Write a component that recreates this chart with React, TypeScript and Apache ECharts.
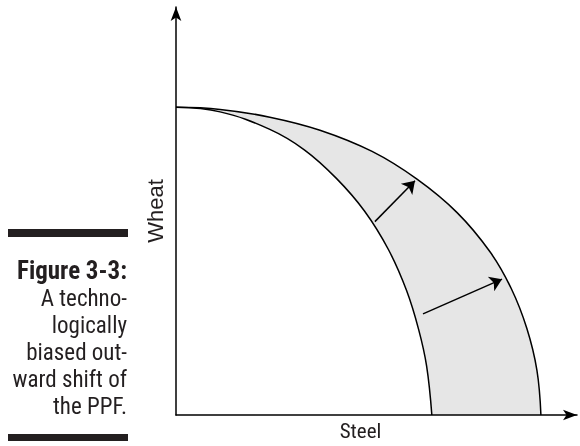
import React, { useEffect, useRef } from "react";
import * as echarts from "echarts";

// PPF curves (Steel on x, Wheat on y)
const innerSteel = [0, 11.0, 23.4, 32.0, 40.0, 47.0, 53.0, 57.5, 60.5, 62.5, 63.8];
const innerWheat = [75.4, 74.3, 70.0, 65.0, 58.0, 50.0, 40.5, 30.5, 21.0, 12.0, 0];
const outerSteel = [0, 11.0, 23.4, 35.9, 48.9, 60.1, 70.1, 78.3, 83.6, 87.5, 90.0, 91.0];
const outerWheat = [75.4, 74.9, 73.0, 69.8, 64.6, 57.8, 49.6, 40.0, 31.0, 21.2, 11.0, 0];
// shift arrows: [fromSteel, fromWheat, toSteel, toWheat]
const arrows = [
  [49.6, 47.4, 59.6, 57.4],
  [61.6, 24.8, 81.3, 33.3],
];
const captionTitle = "Figure 3-3:";
const captionLines = ["A techno-", "logically", "biased out-", "ward shift of", "the PPF."];
const xName = "Steel";
const yName = "Wheat";

const condensed = "'Liberation Sans Narrow', 'Roboto Condensed', Roboto, sans-serif";

export default function App() {
  const ref = useRef<HTMLDivElement>(null);
  useEffect(() => {
    if (!ref.current) return;
    const chart = echarts.init(ref.current, undefined, { renderer: "svg" });
    const zip = (xs: number[], ys: number[]) => xs.map((x, i) => [x, ys[i]]);
    const axisCommon = {
      type: "value" as const,
      min: 0,
      max: 100,
      z: 10,
      axisLine: {
        show: true,
        symbol: ["none", "arrow"],
        symbolSize: [8, 14],
        lineStyle: { color: "#000", width: 1.5 },
      },
      axisTick: { show: false },
      axisLabel: { show: false },
      splitLine: { show: false },
      nameLocation: "middle" as const,
    };
    const graphics: any[] = [
      { type: "rect", shape: { x: 8, y: 229, width: 120, height: 8 }, style: { fill: "#231f20" } },
      { type: "rect", shape: { x: 8, y: 434, width: 120, height: 7 }, style: { fill: "#231f20" } },
      {
        type: "text",
        x: 127,
        y: 270,
        style: {
          text: captionTitle,
          font: `bold 25px ${condensed}`,
          fill: "#231f20",
          align: "right",
          verticalAlign: "middle",
        },
      },
      ...captionLines.map((t, i) => ({
        type: "text",
        x: 127,
        y: 298 + i * 27,
        style: {
          text: t,
          font: `23px ${condensed}`,
          fill: "#231f20",
          align: "right",
          verticalAlign: "middle",
        },
      })),
    ];
    chart.setOption({
      animation: false,
      grid: { left: 176, right: 3, top: 7, bottom: 28, containLabel: false },
      xAxis: {
        ...axisCommon,
        name: xName,
        nameGap: 5,
        nameTextStyle: { fontFamily: condensed, fontSize: 21, color: "#231f20", padding: [0, 32, 0, 0] },
      },
      yAxis: {
        ...axisCommon,
        name: yName,
        nameGap: 10,
        nameTextStyle: { fontFamily: "'Liberation Sans', Arial, sans-serif", fontSize: 22, color: "#231f20" },
      },
      graphic: graphics,
      series: [
        {
          type: "line",
          data: zip(outerSteel, outerWheat),
          smooth: 0.4,
          showSymbol: false,
          lineStyle: { color: "#000", width: 1.5 },
          areaStyle: { color: "#e6e6e6", opacity: 1 },
          z: 2,
        },
        {
          type: "line",
          data: zip(innerSteel, innerWheat),
          smooth: 0.4,
          showSymbol: false,
          lineStyle: { color: "#000", width: 1.5 },
          areaStyle: { color: "#ffffff", opacity: 1 },
          z: 3,
        },
        {
          type: "lines",
          coordinateSystem: "cartesian2d",
          data: arrows.map((a) => ({ coords: [[a[0], a[1]], [a[2], a[3]]] })),
          symbol: ["none", "arrow"],
          symbolSize: 12,
          lineStyle: { color: "#000", width: 1.5, opacity: 1 },
          z: 5,
        },
      ],
    });
    return () => chart.dispose();
  }, []);
  return (
    <div
      ref={ref}
      style={{ position: "fixed", left: 0, top: 0, width: 580, height: 446 }}
    />
  );
}
